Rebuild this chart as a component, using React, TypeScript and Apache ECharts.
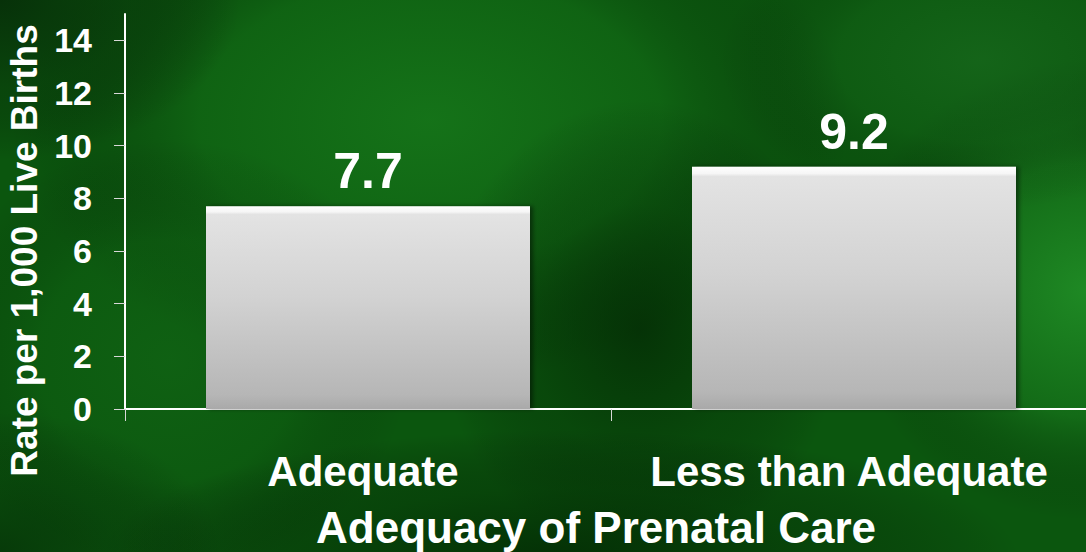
import React, { useEffect, useRef } from "react";
import * as echarts from "echarts";

const categories = ["Adequate", "Less than Adequate"];
const rates = [7.7, 9.2];
const yTicks = [0, 2, 4, 6, 8, 10, 12, 14];
const xAxisTitle = "Adequacy of Prenatal Care";
const yAxisTitle = "Rate per 1,000 Live Births";

const FONT = "'Liberation Sans', Arial, Helvetica, sans-serif";

function radial(color: string, mid: string) {
  return {
    type: "radial",
    x: 0.5,
    y: 0.5,
    r: 0.5,
    colorStops: [
      { offset: 0, color },
      { offset: 0.55, color: mid },
      { offset: 1, color: "rgba(0,0,0,0)" },
    ],
  };
}

export default function App() {
  const ref = useRef<HTMLDivElement>(null);
  useEffect(() => {
    const chart = echarts.init(ref.current!, null, { renderer: "svg" });
    const W = 1086;
    const H = 552;
    const blobs = [
      { cx: 430, cy: 120, rx: 420, ry: 260, c: "rgba(24,124,28,0.75)", m: "rgba(24,124,28,0.35)" },
      { cx: 1086, cy: 290, rx: 240, ry: 230, c: "rgba(34,146,40,0.85)", m: "rgba(34,146,40,0.35)" },
      { cx: 170, cy: 360, rx: 240, ry: 220, c: "rgba(18,104,22,0.6)", m: "rgba(18,104,22,0.25)" },
      { cx: 980, cy: 60, rx: 260, ry: 150, c: "rgba(28,112,34,0.55)", m: "rgba(28,112,34,0.22)" },
      { cx: 640, cy: 330, rx: 200, ry: 230, c: "rgba(3,40,4,0.75)", m: "rgba(3,40,4,0.3)" },
      { cx: 560, cy: 560, rx: 460, ry: 130, c: "rgba(2,38,3,0.8)", m: "rgba(2,38,3,0.35)" },
      { cx: 0, cy: 0, rx: 240, ry: 160, c: "rgba(6,40,8,0.8)", m: "rgba(6,40,8,0.35)" },
      { cx: 0, cy: 552, rx: 220, ry: 140, c: "rgba(4,40,6,0.6)", m: "rgba(4,40,6,0.25)" },
    ];
    const bg: any[] = [
      {
        type: "rect",
        shape: { x: 0, y: 0, width: W, height: H },
        style: { fill: "#0b560e" },
        z: -20,
        silent: true,
      },
      ...blobs.map((b) => ({
        type: "ellipse",
        shape: { cx: b.cx, cy: b.cy, rx: b.rx, ry: b.ry },
        style: { fill: radial(b.c, b.m) },
        z: -19,
        silent: true,
      })),
    ];

    chart.setOption({
      animation: false,
      backgroundColor: "#0b560e",
      graphic: { elements: bg },
      grid: {
        left: 125,
        right: -11,
        top: 14,
        bottom: 143,
        containLabel: false,
        outerBoundsMode: "none",
      },
      xAxis: {
        type: "category",
        data: categories,
        boundaryGap: true,
        axisLine: { show: true, lineStyle: { color: "#ffffff", width: 2 } },
        axisTick: { show: true, length: 12, lineStyle: { color: "#d8d8d8", width: 1 } },
        axisLabel: {
          interval: 0,
          color: "#ffffff",
          fontFamily: FONT,
          fontWeight: "bold",
          fontSize: 42,
          margin: 41,
          padding: [0, 10, 0, 0],
        },
        name: xAxisTitle,
        nameLocation: "middle",
        nameGap: 96,
        nameTextStyle: {
          color: "#ffffff",
          fontFamily: FONT,
          fontWeight: "bold",
          fontSize: 44,
          padding: [0, 30, 0, 0],
        },
      },
      yAxis: {
        type: "value",
        min: 0,
        max: 15,
        interval: 1,
        splitLine: { show: false },
        axisLine: { show: true, lineStyle: { color: "#ffffff", width: 2 } },
        axisTick: {
          show: true,
          length: 11,
          customValues: yTicks,
          lineStyle: { color: "#d8d8d8", width: 1 },
        },
        axisLabel: {
          customValues: yTicks,
          color: "#ffffff",
          fontFamily: FONT,
          fontWeight: "bold",
          fontSize: 34,
          margin: 33,
        },
        name: yAxisTitle,
        nameLocation: "middle",
        nameGap: 80,
        nameTextStyle: {
          color: "#ffffff",
          fontFamily: FONT,
          fontWeight: "bold",
          fontSize: 37,
          padding: [0, 78, 0, 0],
        },
      },
      series: [
        {
          type: "bar",
          data: rates,
          barWidth: 324,
          itemStyle: {
            color: {
              type: "linear",
              x: 0,
              y: 0,
              x2: 0,
              y2: 1,
              colorStops: [
                { offset: 0, color: "#ffffff" },
                { offset: 0.028, color: "#f6f6f6" },
                { offset: 0.04, color: "#e3e3e3" },
                { offset: 0.45, color: "#d2d2d2" },
                { offset: 0.93, color: "#b6b6b6" },
                { offset: 1, color: "#a9a9a9" },
              ],
            },
            shadowColor: "rgba(0,0,0,0.45)",
            shadowBlur: 4,
            shadowOffsetX: 3,
            shadowOffsetY: 0,
          },
          label: {
            show: true,
            position: "top",
            distance: 10,
            color: "#ffffff",
            fontFamily: FONT,
            fontWeight: "bold",
            fontSize: 50,
            formatter: "{c}",
          },
        },
      ],
    });
    return () => chart.dispose();
  }, []);
  return (
    <div
      ref={ref}
      style={{ position: "absolute", left: 0, top: 0, width: 1086, height: 552 }}
    />
  );
}
